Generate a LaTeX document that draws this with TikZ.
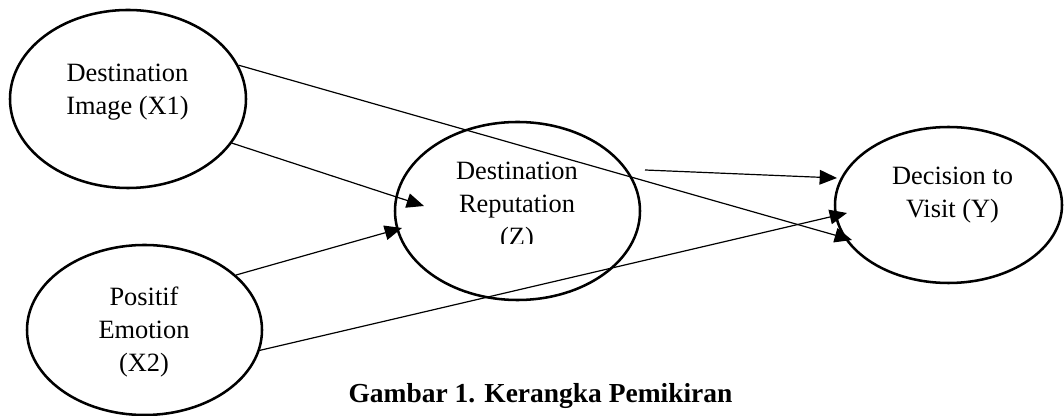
\documentclass[tikz,border=0pt]{standalone}
\usepackage{fontspec}
\setmainfont{Liberation Serif}
\usetikzlibrary{arrows.meta,calc,shapes.geometric}
\begin{document}
\begin{tikzpicture}[x=0.75pt,y=-0.75pt,
  latent/.style={ellipse,draw,line width=1.9pt,inner sep=0pt},
  lbl/.style={align=center,font=\fontsize{19.8pt}{24.75pt}\selectfont,inner sep=0pt,anchor=base},
  arr/.style={line width=0.9pt,-{Triangle[length=13pt,width=11pt]}}]
\useasboundingbox (0,0) rectangle (1064,416);
% latent variables
\node[latent,minimum width=177pt,minimum height=133.5pt] (X1) at (128,99) {};
\node[latent,minimum width=176.25pt,minimum height=127.5pt] (X2) at (144.5,330) {};
\node[latent,minimum width=183.75pt,minimum height=133.5pt] (Z) at (517.5,211) {};
\node[latent,minimum width=170.25pt,minimum height=117pt] (Y) at (948.5,205) {};
% labels (base anchor = baseline of last line)
\node[lbl] (tX1) at (127.5,115) {Destination\\Image (X1)};
\node[lbl] (tX2) at (144,372) {Positif\\Emotion\\(X2)};
\begin{scope}
  \clip (380,100) rectangle (660,244);
  \node[lbl] (tZ) at (517,246) {Destination\\Reputation\\(Z)};
\end{scope}
\node[lbl] (tY) at (952.5,218) {Decision to\\Visit (Y)};
% caption
\node[font=\bfseries\fontsize{20.6pt}{24pt}\selectfont,anchor=base,inner sep=0pt] (cap) at (540.5,403) {Gambar 1. Kerangka Pemikiran};
% paths
\draw[arr] (X1.17) -- ($(Y.center)+(-96.5,35)$);
\draw[arr] (X1.-23) -- ($(Z.center)+(-93.5,-5)$);
\draw[arr] (X2.31) -- ($(Z.center)+(-115.5,17)$);
\draw[arr] (X2.-10) -- ($(Y.center)+(-101.5,8)$);
\draw[arr] ($(Z.center)+(127.5,-41)$) -- ($(Y.center)+(-111.5,-27)$);
\end{tikzpicture}
\end{document}
